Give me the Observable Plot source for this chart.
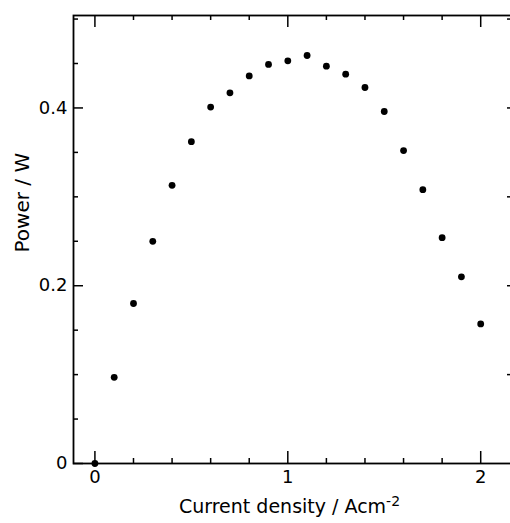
<!DOCTYPE html>
<html><head><meta charset="utf-8">
<script src="https://cdn.jsdelivr.net/npm/d3@7"></script>
<script src="https://cdn.jsdelivr.net/npm/@observablehq/plot@0.6"></script>
<style>body{margin:0;background:#fff}#c{width:510px;height:523px;overflow:hidden}#c svg{max-width:none !important}</style>
</head><body><div id="c"></div>
<script>
// Data
const currentDensity = [0, 0.1, 0.2, 0.3, 0.4, 0.5, 0.6, 0.7, 0.8, 0.9, 1.0, 1.1, 1.2, 1.3, 1.4, 1.5, 1.6, 1.7, 1.8, 1.9, 2.0];
const power = [0, 0.097, 0.180, 0.250, 0.313, 0.362, 0.401, 0.417, 0.436, 0.449, 0.453, 0.459, 0.447, 0.438, 0.423, 0.396, 0.352, 0.308, 0.254, 0.210, 0.157];

const xTickLabels = [0, 1, 2];
const yTickLabels = [0, 0.2, 0.4];
const xMinorTicks = [0.2, 0.4, 0.6, 0.8, 1.2, 1.4, 1.6, 1.8];
const yMinorTicks = [0.05, 0.1, 0.15, 0.25, 0.3, 0.35, 0.45, 0.5];
const yRightTicks = [0.1, 0.2, 0.3, 0.4, 0.5];
const xLabelBase = "Current density / Acm";
const xLabelSup = "-2";
const yLabel = "Power / W";

const points = currentDensity.map((x, i) => ({x, y: power[i]}));

const W = 516, H = 523, mL = 73, mR = 3, mT = 15, mB = 60;
const plotW = W - mL - mR, plotH = H - mT - mB;

const chart = Plot.plot({
  width: W, height: H,
  marginLeft: mL, marginRight: mR, marginTop: mT, marginBottom: mB,
  style: {fontFamily: "'DejaVu Sans', sans-serif", background: "#fff", color: "#000", maxWidth: "none"},
  x: {domain: [-0.111, 2.17], axis: null},
  y: {domain: [0, 0.504], axis: null},
  marks: [
    Plot.frame({stroke: "#000", strokeWidth: 1.8}),
    // left ticks
    Plot.tickY(yMinorTicks, {y: d => d, insetRight: plotW - 5, strokeWidth: 1.5}),
    Plot.tickY(yTickLabels, {y: d => d, insetRight: plotW - 10, strokeWidth: 1.5}),
    // right ticks
    Plot.tickY(yRightTicks, {y: d => d, insetLeft: plotW - 6, strokeWidth: 1.5}),
    // bottom ticks
    Plot.tickX(xMinorTicks, {x: d => d, insetTop: plotH - 5, strokeWidth: 1.5}),
    Plot.tickX(xTickLabels, {x: d => d, insetTop: plotH - 12, strokeWidth: 1.5}),
    // top ticks
    Plot.tickX(xMinorTicks, {x: d => d, insetBottom: plotH - 5, strokeWidth: 1.5}),
    Plot.tickX(xTickLabels, {x: d => d, insetBottom: plotH - 12, strokeWidth: 1.5}),
    // data
    Plot.dot(points, {x: "x", y: "y", r: 3.4, fill: "#000", stroke: null}),
    // tick labels
    Plot.text(xTickLabels, {x: d => d, text: d => String(d), frameAnchor: "bottom", dy: 19, fontSize: 18, fill: "#000"}),
    Plot.text(yTickLabels, {y: d => d, text: d => String(d), frameAnchor: "left", textAnchor: "end", dx: -6, fontSize: 18, fill: "#000"}),
    // axis labels
    Plot.text([xLabelBase + xLabelSup], {text: d => d, frameAnchor: "bottom", dy: 49, dx: -4, fontSize: 19, fill: "#000"}),
    Plot.text([yLabel], {text: d => d, frameAnchor: "left", rotate: -90, dx: -51, dy: 13, fontSize: 20, fill: "#000"})
  ]
});

d3.select(chart).selectAll("text").filter(function() { return this.textContent === xLabelBase + xLabelSup; })
  .each(function() {
    const t = d3.select(this);
    t.text(null);
    t.append("tspan").text(xLabelBase);
    t.append("tspan").attr("dy", "-0.5em").attr("font-size", "14px").text(xLabelSup);
  });

document.getElementById("c").appendChild(chart);
</script>
</body></html>
